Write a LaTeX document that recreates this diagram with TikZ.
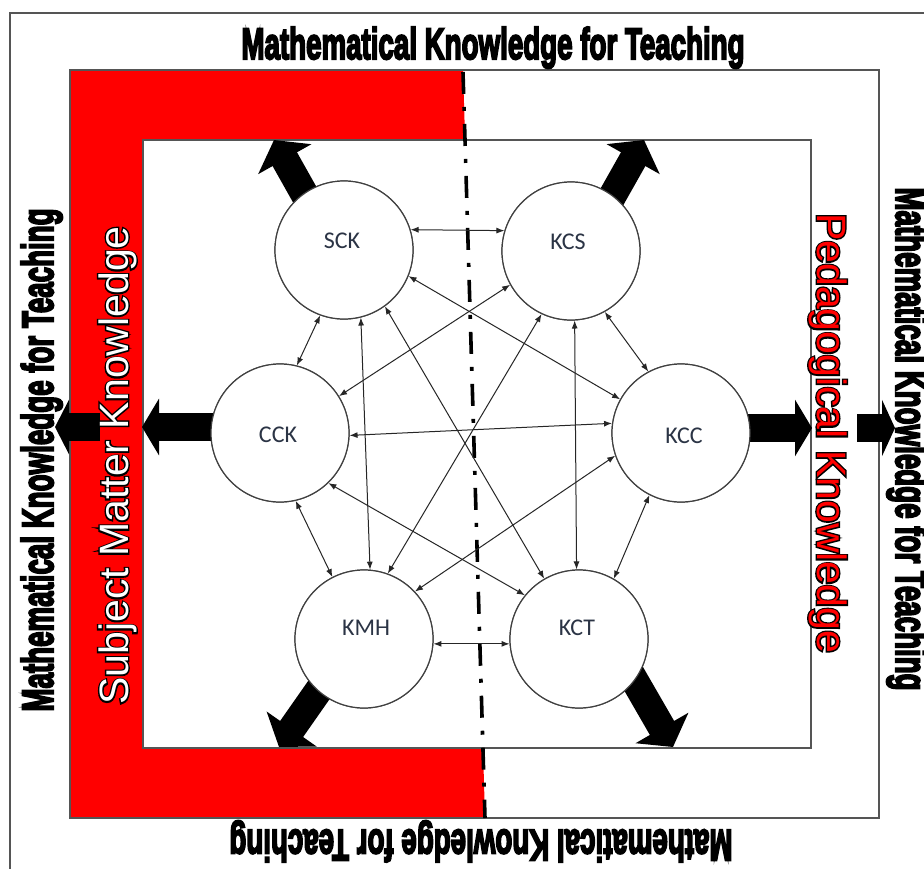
\documentclass[tikz,border=0pt]{standalone}
\usepackage{fontspec}
\usepackage{graphicx}
\usetikzlibrary{arrows.meta}
\newfontfamily\sansA{Liberation Sans}
\newfontfamily\titlefont{Liberation Sans Bold}[FakeBold=5]
\newfontfamily\outlinefont{Liberation Sans}[FakeBold=7]
\newfontfamily\calib{Carlito}
\definecolor{mkred}{HTML}{FF0000}
\definecolor{framegray}{HTML}{555555}
\definecolor{labelcol}{HTML}{2B3445}
\newcommand{\heavytitle}{\scalebox{0.66}[1.05]{Mathematical Knowledge for Teaching}}
\begin{document}
\begin{tikzpicture}[x=1pt,y=-1pt,
  frame/.style={draw=framegray, line width=1.6pt},
  kcircle/.style={circle, draw=black!75, line width=1.2pt, fill=white, minimum size=138pt, inner sep=0pt},
  klabel/.style={font=\calib\fontsize{24}{28}\selectfont, text=labelcol},
  link/.style={draw=black!85, line width=1pt, {Latex[length=8pt,width=6pt]}-{Latex[length=8pt,width=6pt]}},
  blockarrow/.style={line width=28pt, -{Triangle[length=22pt,width=60pt]}},
  title/.style={font=\titlefont\fontsize{42}{50}\selectfont, inner sep=0pt},
  bandback/.style={font=\outlinefont\fontsize{41}{49}\selectfont, inner sep=0pt, text=black},
  bandtext/.style={font=\sansA\fontsize{41}{49}\selectfont, inner sep=0pt}
]
\useasboundingbox (0,0) rectangle (924,868);
\fill[white] (0,0) rectangle (924,868);
% outer frame (only top and left visible)
\draw[frame] (10,880) -- (10,13) -- (940,13);
% red L band
\fill[mkred] (70,70) -- (463,70) -- (465.1,140) -- (143,140) -- (143,748) -- (483,748) -- (485,818) -- (70,818) -- cycle;
% middle and inner rectangles
\draw[frame] (70,70) rectangle (879,818);
\draw[frame, fill=white] (143,140) rectangle (811,748);
% dash-dot divider
\coordinate (dtop) at (463,72);
\coordinate (dbot) at (485,818);
\draw[line width=3.6pt, dash pattern=on 22pt off 13pt on 4pt off 13pt] (dtop) -- (dbot);

% nodes
\node[kcircle] (sck) at (344,250) {};
\node[kcircle] (kcs) at (571,251) {};
\node[kcircle] (cck) at (280,433) {};
\node[kcircle] (kcc) at (681,433) {};
\node[kcircle] (kmh) at (364,639) {};
\node[kcircle] (kct) at (579,639) {};

% block arrows (drawn under circles)
\coordinate (aS1) at (319,220); \coordinate (aS2) at (274,140);
\coordinate (aK1) at (596,225); \coordinate (aK2) at (644,140);
\coordinate (aM1) at (335,667); \coordinate (aM2) at (279,747);
\coordinate (aT1) at (617,650); \coordinate (aT2) at (673,747);
\coordinate (aC1) at (250,427); \coordinate (aC2) at (142,427);
\coordinate (aO1) at (100,427); \coordinate (aO2) at (55,427);
\coordinate (aR1) at (710,428); \coordinate (aR2) at (812,428);
\coordinate (aP1) at (857,428); \coordinate (aP2) at (895,428);
\draw[blockarrow] (aS1) -- (aS2);
\draw[blockarrow] (aK1) -- (aK2);
\draw[blockarrow] (aM1) -- (aM2);
\draw[blockarrow] (aT1) -- (aT2);
\draw[blockarrow, -{Triangle[length=17pt,width=56pt]}] (aC1) -- (aC2);
\draw[blockarrow, -{Triangle[length=14pt,width=54pt]}] (aO1) -- (aO2);
\draw[blockarrow, -{Triangle[length=17pt,width=56pt]}] (aR1) -- (aR2);
\draw[blockarrow, -{Triangle[length=13pt,width=56pt]}] (aP1) -- (aP2);

% redraw circles on top of arrows
\foreach \n in {sck,kcs,cck,kcc,kmh,kct}{
  \draw[draw=black!75, line width=1.2pt, fill=white] (\n.center) circle (69pt);
}
\node[klabel] (lsck) at (342,241) {SCK};
\node[klabel] (lkcs) at (568,242) {KCS};
\node[klabel] (lcck) at (278,435) {CCK};
\node[klabel] (lkcc) at (684,436) {KCC};
\node[klabel] (lkmh) at (366,628) {KMH};
\node[klabel] (lkct) at (577,628) {KCT};

% connectors
\draw[link] (sck.17) -- (kcs.163);
\draw[link] (kmh.-4) -- (kct.184);
\draw[link] (cck.-2) -- (kcc.172);
\draw[link] (sck.-110) -- (cck.76);
\draw[link] (kcs.-61) -- (kcc.118);
\draw[link] (cck.-77) -- (kmh.117);
\draw[link] (kcc.-117) -- (kct.60);
\draw[link] (sck.-76) -- (kmh.85);
\draw[link] (kcs.-87) -- (kct.92);
\draw[link] (sck.-22) -- (kcc.151);
\draw[link] (kcs.-151) -- (cck.32);
\draw[link] (sck.-54) -- (kct.120);
\draw[link] (kcs.-115) -- (kmh.70);
\draw[link] (cck.-46) -- (kct.141);
\draw[link] (kcc.-161) -- (kmh.43);

% titles
\node[title, anchor=base] (ttop) at (493,59) {\heavytitle};
\node[title, anchor=base, rotate=90] (tleft) at (53,460) {\heavytitle};
\node[title, anchor=base, rotate=-90] (tright) at (896,439) {\heavytitle};
\node[title, anchor=base, rotate=180] (tbot) at (481,830) {\heavytitle};

% band texts: black emboldened copy behind, coloured text in front
\node[bandback, anchor=base west, rotate=90] (smkback) at (128,705) {Subject Matter Knowledge};
\node[bandtext, text=white, anchor=base west, rotate=90] (smk) at (128,705) {Subject Matter Knowledge};
\node[bandback, anchor=base west, rotate=-90] (pkback) at (817,213) {Pedagogical Knowledge};
\node[bandtext, text=mkred, anchor=base west, rotate=-90] (pk) at (817,213) {Pedagogical Knowledge};
\end{tikzpicture}
\end{document}
